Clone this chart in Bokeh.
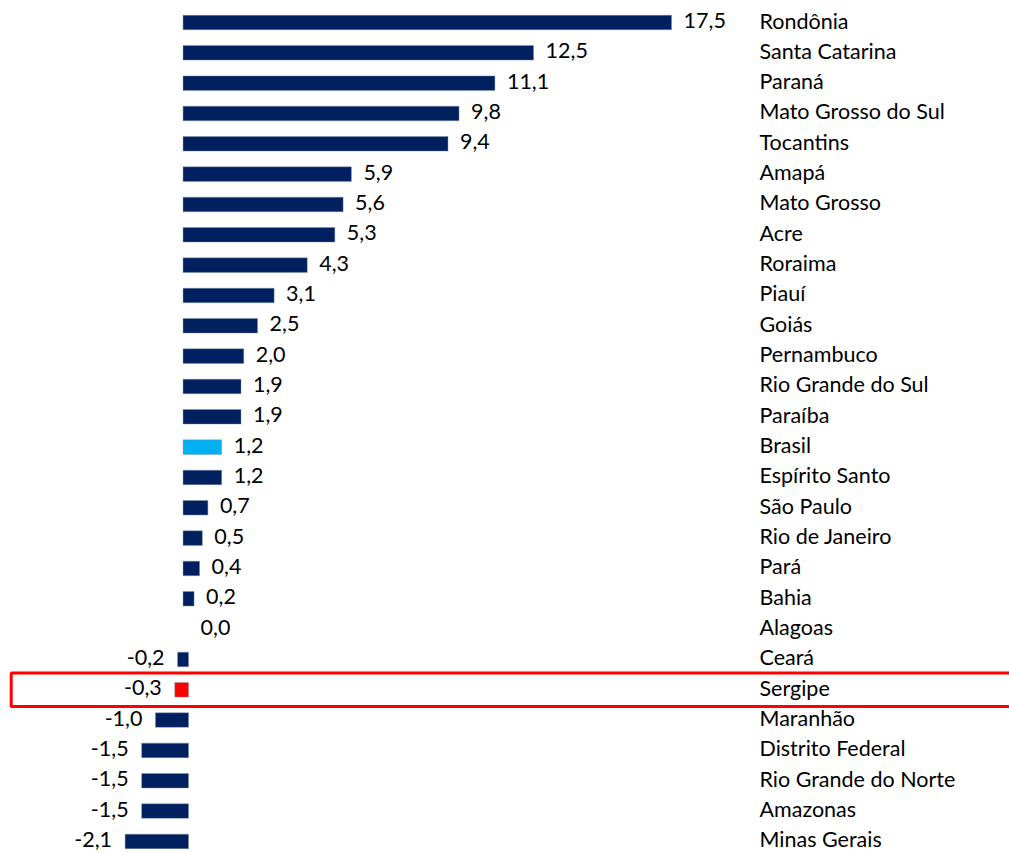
from bokeh.plotting import figure
from bokeh.models import Range1d, ColumnDataSource
from bokeh.core.properties import value
from bokeh.embed import file_html
from bokeh.resources import INLINE

states = ["Rondônia", "Santa Catarina", "Paraná", "Mato Grosso do Sul", "Tocantins",
          "Amapá", "Mato Grosso", "Acre", "Roraima", "Piauí", "Goiás", "Pernambuco",
          "Rio Grande do Sul", "Paraíba", "Brasil", "Espírito Santo", "São Paulo",
          "Rio de Janeiro", "Pará", "Bahia", "Alagoas", "Ceará", "Sergipe", "Maranhão",
          "Distrito Federal", "Rio Grande do Norte", "Amazonas", "Minas Gerais"]
values = [17.5, 12.5, 11.1, 9.8, 9.4, 5.9, 5.6, 5.3, 4.3, 3.1, 2.5, 2.0, 1.9, 1.9,
          1.2, 1.2, 0.7, 0.5, 0.4, 0.2, 0.0, -0.2, -0.3, -1.0, -1.5, -1.5, -1.5, -2.1]
highlight_brasil = "Brasil"
highlight_state = "Sergipe"

NAVY = "#002060"
LIGHT = "#00B0F0"
RED = "#FF0000"
FONT = "Lato"
FS = "21.5px"

W, H = 1009, 852
px_per_unit = 27.6
zero_px = 185.3
row_px = 30.33
row0_px = 22.0

x0 = -zero_px / px_per_unit
x1 = x0 + W / px_per_unit
y_top = -row0_px / row_px
y_bot = (H - row0_px) / row_px

p = figure(width=W, height=H, output_backend="svg", toolbar_location=None,
           x_range=Range1d(x0, x1), y_range=Range1d(y_bot, y_top),
           min_border=0, outline_line_color=None)
p.axis.visible = False
p.grid.visible = False
p.background_fill_color = "white"

pad = 0.1
idx = list(range(len(states)))
lefts, rights, colors, lab_x, lab_align, lab_off, lab_txt = [], [], [], [], [], [], []
for s, v in zip(states, values):
    if v > 0:
        lefts.append(-pad); rights.append(v + pad)
    elif v < 0:
        lefts.append(v - pad); rights.append(pad)
    else:
        lefts.append(0); rights.append(0)
    if s == highlight_brasil:
        colors.append(LIGHT)
    elif s == highlight_state:
        colors.append(RED)
    else:
        colors.append(NAVY)
    if v >= 0:
        lab_x.append(v + pad); lab_align.append("left"); lab_off.append(12)
    else:
        lab_x.append(v - pad); lab_align.append("right"); lab_off.append(-13)
    lab_txt.append(f"{v:.1f}".replace(".", ","))

bars = [i for i, v in enumerate(values) if v != 0]
src = ColumnDataSource(dict(
    y=[idx[i] for i in bars], left=[lefts[i] for i in bars], right=[rights[i] for i in bars],
    color=[colors[i] for i in bars]))
p.hbar(y="y", left="left", right="right", height=0.48, fill_color="color",
       line_color="#8497B0", line_width=0.6, line_alpha=0.7, source=src)

lsrc = ColumnDataSource(dict(x=lab_x, y=idx, t=lab_txt, a=lab_align, o=lab_off))
p.text(x="x", y="y", text="t", text_align="a", x_offset="o", y_offset=-2,
       text_baseline="middle", text_line_height=1.0,
       text_font=value(FONT), text_font_size=FS, text_color="black", source=lsrc)

name_x = (759 - zero_px) / px_per_unit
p.text(x=[name_x] * len(states), y=idx, text=states, text_align="left", y_offset=-2,
       text_baseline="middle", text_line_height=1.0,
       text_font=value(FONT), text_font_size=FS, text_color="black")

si = states.index(highlight_state)
p.quad(left=[(10.7 - zero_px) / px_per_unit], right=[x1 + 2], top=[si - 0.555], bottom=[si + 0.555],
       fill_alpha=0, line_color=RED, line_width=3)

open("out.html", "w").write(file_html(p, INLINE))
